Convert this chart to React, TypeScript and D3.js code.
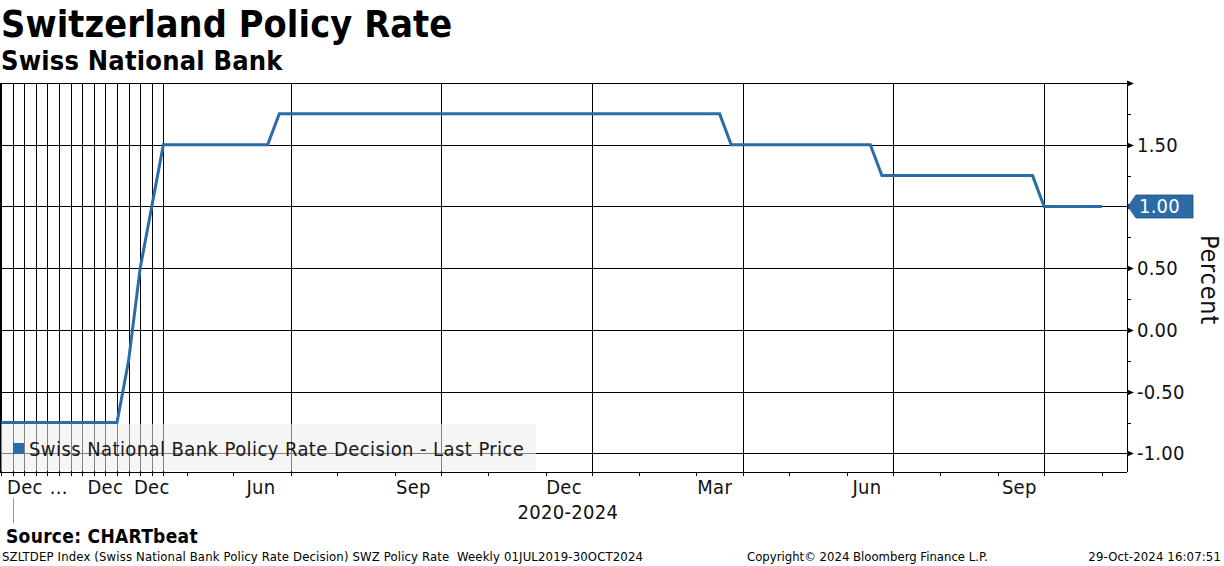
import { useEffect, useRef } from 'react'
import * as d3 from 'd3'

const WIDTH = 1224
const HEIGHT = 566
const FONT = "'DejaVu Sans Condensed', 'Liberation Sans', sans-serif"
const BLUE = '#2b6ca8'

// SNB decision points before the weekly series starts
const decisionDates = [
  '2019-09-19', '2019-12-12', '2020-03-19', '2020-06-18', '2020-09-24',
  '2020-12-17', '2021-03-25', '2021-06-17', '2021-09-23', '2021-12-16',
  '2022-03-24', '2022-06-16', '2022-09-22', '2022-12-15',
]
const decisionRates = [
  -0.75, -0.75, -0.75, -0.75, -0.75,
  -0.75, -0.75, -0.75, -0.75, -0.75,
  -0.75, -0.25, 0.5, 1.0,
]

// weekly (Monday) points from 17 Apr 2023
const weeklyStart = '2023-04-17'
const weeklyRates = [
  1.5, 1.5, 1.5, 1.5, 1.5, 1.5, 1.5, 1.5, 1.5, 1.5,
  1.75, 1.75, 1.75, 1.75, 1.75, 1.75, 1.75, 1.75, 1.75, 1.75,
  1.75, 1.75, 1.75, 1.75, 1.75, 1.75, 1.75, 1.75, 1.75, 1.75,
  1.75, 1.75, 1.75, 1.75, 1.75, 1.75, 1.75, 1.75, 1.75, 1.75,
  1.75, 1.75, 1.75, 1.75, 1.75, 1.75, 1.75, 1.75, 1.75,
  1.5, 1.5, 1.5, 1.5, 1.5, 1.5, 1.5, 1.5, 1.5, 1.5, 1.5, 1.5, 1.5,
  1.25, 1.25, 1.25, 1.25, 1.25, 1.25, 1.25, 1.25, 1.25, 1.25, 1.25, 1.25, 1.25, 1.25,
  1.0, 1.0, 1.0, 1.0, 1.0, 1.0,
]

const yMajorTicks = [-1, -0.5, 0, 0.5, 1, 1.5, 2]
const yMinorTicks = [-0.75, -0.25, 0.25, 0.75, 1.25, 1.75]
const yLabelTicks = [-1, -0.5, 0, 0.5, 1.5]

const xLabels = [
  { date: '2019-12-15', text: 'Dec' },
  { date: '2020-12-15', text: '...' },
  { date: '2021-12-15', text: 'Dec' },
  { date: '2022-12-15', text: 'Dec' },
  { date: '2023-06-15', text: 'Jun' },
  { date: '2023-09-15', text: 'Sep' },
  { date: '2023-12-15', text: 'Dec' },
  { date: '2024-03-15', text: 'Mar' },
  { date: '2024-06-15', text: 'Jun' },
  { date: '2024-09-15', text: 'Sep' },
]
const yearLabel = { date: '2020-01-01', text: '2020-2024' }

const parse = d3.timeParse('%Y-%m-%d')
const fmt = (v) => d3.format('.2f')(v).replace('\u2212', '-')

function App() {
  const svgRef = useRef(null)

  useEffect(() => {
    const svg = d3.select(svgRef.current)
    svg.selectAll('*').remove()

    const start = parse(weeklyStart)
    const points = [
      ...decisionDates.map((d, i) => ({ date: parse(d), value: decisionRates[i] })),
      ...weeklyRates.map((v, i) => ({ date: d3.timeDay.offset(start, 7 * i), value: v })),
    ]
    const dates = points.map(p => p.date)

    const plot = { left: 0, right: 1127, top: 83, bottom: 472 }
    // x axis is point based (Bloomberg style): each observation one slot
    const x = d3.scaleLinear().domain([0, 97.15]).range([1.1, plot.right])
    const dateIndex = d3.scaleTime().domain(dates).range(dates.map((_, i) => i)).clamp(true)
    const xDate = (d) => x(dateIndex(d))
    const nearest = (date) => {
      let best = 0
      dates.forEach((d, i) => {
        if (Math.abs(+d - +date) < Math.abs(+dates[best] - +date)) best = i
      })
      return best
    }
    const y = d3.scaleLinear().domain([-1.15, 2.0]).range([plot.bottom, plot.top])

    const quarterStarts = d3.timeMonth.every(3).range(new Date(2019, 9, 1), new Date(2024, 11, 1))
    const monthStarts = d3.timeMonth.range(new Date(2019, 7, 1), new Date(2024, 11, 2))
    const gridIdx = Array.from(new Set(quarterStarts.map(nearest)))
    const tickIdx = Array.from(new Set(monthStarts.map(nearest)))

    const g = svg.append('g').attr('shape-rendering', 'crispEdges')

    // horizontal gridlines
    g.selectAll('line.hgrid')
      .data(yMajorTicks)
      .join('line')
      .attr('class', 'hgrid')
      .attr('x1', plot.left).attr('x2', plot.right)
      .attr('y1', d => Math.round(y(d)) + 0.5).attr('y2', d => Math.round(y(d)) + 0.5)
      .attr('stroke', '#000').attr('stroke-width', 1)

    // vertical gridlines
    g.selectAll('line.vgrid')
      .data(gridIdx)
      .join('line')
      .attr('class', 'vgrid')
      .attr('x1', d => Math.round(x(d)) + 0.5).attr('x2', d => Math.round(x(d)) + 0.5)
      .attr('y1', plot.top).attr('y2', plot.bottom)
      .attr('stroke', '#000').attr('stroke-width', 1)

    // left frame
    g.append('line')
      .attr('x1', 0.5).attr('x2', 0.5).attr('y1', plot.top).attr('y2', plot.bottom)
      .attr('stroke', '#000')

    // series
    const line = d3.line<any>().x((d, i) => x(i)).y(d => y(d.value))
    svg.append('path')
      .datum(points)
      .attr('d', line)
      .attr('fill', 'none')
      .attr('stroke', BLUE)
      .attr('stroke-width', 3)
      .attr('stroke-linejoin', 'miter')

    // legend
    const lg = svg.append('g')
    lg.append('rect')
      .attr('x', 1).attr('y', 424).attr('width', 535).attr('height', 47)
      .attr('fill', '#ececec').attr('fill-opacity', 0.55)
    lg.append('rect')
      .attr('x', 13).attr('y', 443).attr('width', 11).attr('height', 11)
      .attr('fill', BLUE)
    lg.append('text')
      .attr('x', 29).attr('y', 456)
      .attr('font-size', 20).attr('letter-spacing', 0.42).attr('fill', '#1a1a1a')
      .text('Swiss National Bank Policy Rate Decision - Last Price')

    // x axis
    g.append('line')
      .attr('x1', plot.left).attr('x2', plot.right)
      .attr('y1', plot.bottom + 0.5).attr('y2', plot.bottom + 0.5)
      .attr('stroke', '#000')
    g.selectAll('line.xtick')
      .data(tickIdx)
      .join('line')
      .attr('class', 'xtick')
      .attr('x1', d => Math.round(x(d)) + 0.5).attr('x2', d => Math.round(x(d)) + 0.5)
      .attr('y1', plot.bottom).attr('y2', plot.bottom + 4)
      .attr('stroke', '#000')

    svg.selectAll('text.xlabel')
      .data(xLabels)
      .join('text')
      .attr('class', 'xlabel')
      .each(function (d) {
        const px = xDate(parse(d.date))
        const t = d3.select(this).text(d.text)
        if (px - 17 < 7) t.attr('x', 7).attr('text-anchor', 'start')
        else t.attr('x', px).attr('text-anchor', 'middle')
      })
      .attr('y', 494)
      .attr('font-size', 20).attr('letter-spacing', 0.3).attr('fill', '#111')

    const yearX = x(nearest(parse(yearLabel.date)))
    g.append('line')
      .attr('x1', Math.round(yearX) + 0.5).attr('x2', Math.round(yearX) + 0.5)
      .attr('y1', 498).attr('y2', 523)
      .attr('stroke', '#999')
    svg.append('text')
      .attr('x', (yearX + plot.right) / 2 - 2).attr('y', 519)
      .attr('text-anchor', 'middle')
      .attr('font-size', 20).attr('letter-spacing', 0.3).attr('fill', '#111')
      .text(yearLabel.text)

    // right axis
    g.append('line')
      .attr('x1', plot.right + 0.5).attr('x2', plot.right + 0.5)
      .attr('y1', plot.top).attr('y2', plot.bottom)
      .attr('stroke', '#000')
    svg.selectAll('path.ymajor')
      .data(yMajorTicks)
      .join('path')
      .attr('class', 'ymajor')
      .attr('d', d => {
        const yy = Math.round(y(d)) + 0.5
        return `M${plot.right},${yy - 3}L${plot.right + 7},${yy}L${plot.right},${yy + 3}Z`
      })
      .attr('fill', '#000')
    g.selectAll('line.yminor')
      .data(yMinorTicks)
      .join('line')
      .attr('class', 'yminor')
      .attr('x1', plot.right).attr('x2', plot.right + 4)
      .attr('y1', d => Math.round(y(d)) + 0.5).attr('y2', d => Math.round(y(d)) + 0.5)
      .attr('stroke', '#000')
    svg.selectAll('text.ylabel')
      .data(yLabelTicks)
      .join('text')
      .attr('class', 'ylabel')
      .attr('x', plot.right + 10)
      .attr('y', d => y(d) + 7)
      .attr('font-size', 20).attr('letter-spacing', 0.2).attr('fill', '#111')
      .text(d => fmt(d))

    // last price tag
    const last = points[points.length - 1].value
    const ty = y(last)
    svg.append('path')
      .attr('d', `M${plot.right + 1},${ty}L${plot.right + 9},${ty - 11.5}L${plot.right + 66},${ty - 11.5}L${plot.right + 66},${ty + 11.5}L${plot.right + 9},${ty + 11.5}Z`)
      .attr('fill', BLUE).attr('stroke', '#1d4f7e').attr('stroke-width', 0.8)
    svg.append('text')
      .attr('x', plot.right + 12).attr('y', ty + 7)
      .attr('font-size', 20).attr('letter-spacing', 0.2).attr('fill', '#fff')
      .text(fmt(last))

    svg.append('text')
      .attr('transform', 'translate(1201,280) rotate(90)')
      .attr('text-anchor', 'middle')
      .attr('font-size', 25).attr('letter-spacing', 0.8).attr('fill', '#111')
      .text('Percent')

    // titles and footer
    svg.append('text').attr('x', 1).attr('y', 37)
      .attr('font-size', 37.5).attr('font-weight', 'bold').attr('letter-spacing', 0.1).attr('fill', '#000')
      .text('Switzerland Policy Rate')
    svg.append('text').attr('x', 1).attr('y', 70)
      .attr('font-size', 27).attr('font-weight', 'bold').attr('letter-spacing', 0.2).attr('fill', '#000')
      .text('Swiss National Bank')
    svg.append('text').attr('x', 6).attr('y', 543)
      .attr('font-size', 19).attr('font-weight', 'bold').attr('letter-spacing', 0.3).attr('fill', '#000')
      .text('Source: CHARTbeat')
    const foot = { size: 13, spacing: 0.14 }
    svg.append('text').attr('x', 2).attr('y', 561)
      .attr('font-size', foot.size).attr('letter-spacing', foot.spacing).attr('fill', '#000')
      .style('white-space', 'pre')
      .text('SZLTDEP Index (Swiss National Bank Policy Rate Decision) SWZ Policy Rate  Weekly 01JUL2019-30OCT2024')
    svg.append('text').attr('x', 747).attr('y', 561)
      .attr('font-size', foot.size).attr('letter-spacing', 0).attr('fill', '#000')
      .text('Copyright\u00a9 2024 Bloomberg Finance L.P.')
    svg.append('text').attr('x', 1221).attr('y', 561)
      .attr('text-anchor', 'end')
      .attr('font-size', foot.size).attr('letter-spacing', foot.spacing).attr('fill', '#000')
      .text('29-Oct-2024 16:07:51')
  }, [])

  return (
    <>
      <style>{`body { margin: 0; background: #fff; }`}</style>
      <svg
        ref={svgRef}
        width={WIDTH}
        height={HEIGHT}
        style={{ display: 'block', fontFamily: FONT }}
      />
    </>
  )
}

export default App
